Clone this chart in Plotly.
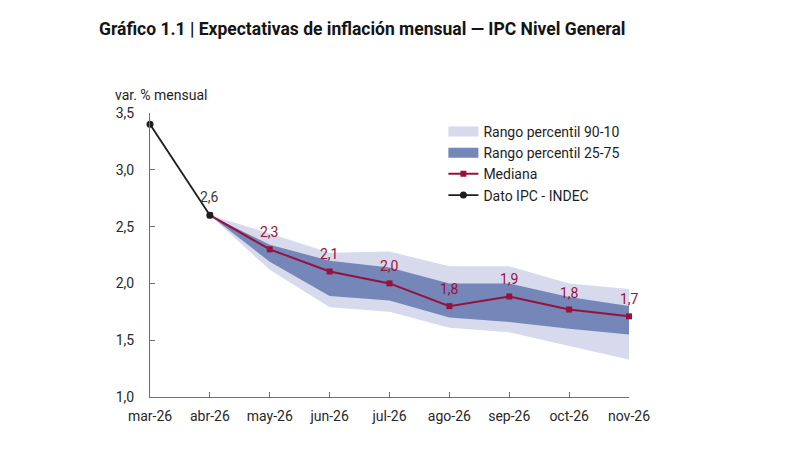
import plotly.graph_objects as go

months = ["mar-26", "abr-26", "may-26", "jun-26", "jul-26", "ago-26", "sep-26", "oct-26", "nov-26"]

# Dato IPC - INDEC (observed)
ipc_months = ["mar-26", "abr-26"]
ipc_values = [3.4, 2.6]

# Expectations (from abr-26 onward)
exp_months = ["abr-26", "may-26", "jun-26", "jul-26", "ago-26", "sep-26", "oct-26", "nov-26"]
mediana = [2.6, 2.30, 2.105, 2.0, 1.80, 1.885, 1.77, 1.71]
p90 = [2.6, 2.44, 2.27, 2.28, 2.15, 2.15, 2.00, 1.95]
p10 = [2.6, 2.12, 1.79, 1.75, 1.61, 1.57, 1.45, 1.33]
p75 = [2.6, 2.34, 2.20, 2.14, 2.00, 2.00, 1.88, 1.80]
p25 = [2.6, 2.19, 1.89, 1.85, 1.70, 1.66, 1.60, 1.55]

LIGHT = "rgb(214,218,236)"
DARK = "rgb(117,134,184)"
RED = "rgb(150,18,60)"
BLACK = "rgb(30,30,30)"
FONT = "Roboto"

def fmt(v):
    return f"{v:.1f}".replace(".", ",")

fig = go.Figure()

fig.add_trace(go.Scatter(x=exp_months, y=p10, mode="lines", line=dict(width=0, color=LIGHT),
                         showlegend=False, hoverinfo="skip"))
fig.add_trace(go.Scatter(x=exp_months, y=p90, mode="lines", line=dict(width=0, color=LIGHT),
                         fill="tonexty", fillcolor=LIGHT, showlegend=False, hoverinfo="skip",
                         legendgroup="p90"))
fig.add_trace(go.Scatter(x=exp_months, y=p25, mode="lines", line=dict(width=0, color=DARK),
                         showlegend=False, hoverinfo="skip"))
fig.add_trace(go.Scatter(x=exp_months, y=p75, mode="lines", line=dict(width=0, color=DARK),
                         fill="tonexty", fillcolor=DARK, showlegend=False, hoverinfo="skip",
                         legendgroup="p75"))

# legend swatches for the bands
fig.add_trace(go.Scatter(x=[None], y=[None], mode="lines", line=dict(width=12, color=LIGHT),
                         name="Rango percentil 90-10", legendgroup="p90"))
fig.add_trace(go.Scatter(x=[None], y=[None], mode="lines", line=dict(width=12, color=DARK),
                         name="Rango percentil 25-75", legendgroup="p75"))

fig.add_trace(go.Scatter(x=exp_months, y=mediana, mode="lines+markers", name="Mediana",
                         line=dict(color=RED, width=2), marker=dict(symbol="square", size=6, color=RED),
                         cliponaxis=False))

fig.add_trace(go.Scatter(x=ipc_months, y=ipc_values, mode="lines+markers", name="Dato IPC - INDEC",
                         line=dict(color=BLACK, width=1.8), marker=dict(symbol="circle", size=7, color=BLACK),
                         cliponaxis=False))

annotations = [
    dict(text="<b>Gráfico 1.1 | Expectativas de inflación mensual — IPC Nivel General</b>",
         xref="paper", yref="paper", x=-53/479, y=1 + (113 - 29) / 284, xanchor="left", yanchor="middle",
         showarrow=False, font=dict(size=17.5, family=FONT, color="rgb(20,20,20)")),
    dict(text="var. % mensual", xref="paper", yref="paper", x=-37/479, y=1 + (113 - 95) / 284,
         xanchor="left", yanchor="middle", showarrow=False,
         font=dict(size=14, family=FONT, color="rgb(30,30,30)")),
]
# Data labels
for m, v in zip(exp_months[1:], mediana[1:]):
    annotations.append(dict(x=m, y=v, xref="x", yref="y", text=fmt(v), showarrow=False,
                            yshift=17, font=dict(size=14, family=FONT, color=RED)))
annotations.append(dict(x=ipc_months[-1], y=ipc_values[-1], xref="x", yref="y", text=fmt(ipc_values[-1]),
                        showarrow=False, yshift=18, font=dict(size=14, family=FONT, color="rgb(60,60,60)")))

fig.update_layout(
    width=790, height=450,
    margin=dict(l=150, r=161, t=113, b=53),
    paper_bgcolor="white", plot_bgcolor="white",
    font=dict(family=FONT, size=14, color="rgb(40,40,40)"),
    separators=",.",
    showlegend=True,
    legend=dict(x=0.6125, y=0.99, xanchor="left", yanchor="top", bgcolor="rgba(0,0,0,0)",
                font=dict(size=14, family=FONT, color="rgb(30,30,30)"), tracegroupgap=0,
                itemwidth=30, traceorder="normal"),
    annotations=annotations,
    hovermode=False,
)

fig.update_xaxes(type="category", categoryorder="array", categoryarray=months, range=[0, 8],
                 showline=True, linecolor="rgb(110,110,110)", linewidth=1,
                 ticks="inside", ticklen=5, tickcolor="rgb(110,110,110)", showgrid=False, zeroline=False,
                 ticklabelstandoff=6,
                 tickfont=dict(size=14, color="rgb(40,40,40)"))
fig.update_yaxes(range=[1.0, 3.5], tickvals=[1.0, 1.5, 2.0, 2.5, 3.0, 3.5], tickformat=".1f",
                 showline=True, linecolor="rgb(110,110,110)", linewidth=1,
                 ticks="inside", ticklen=5, tickcolor="rgb(110,110,110)", showgrid=False, zeroline=False,
                 ticklabelstandoff=12,
                 tickfont=dict(size=14, color="rgb(40,40,40)"))

fig.write_html("out.html")
